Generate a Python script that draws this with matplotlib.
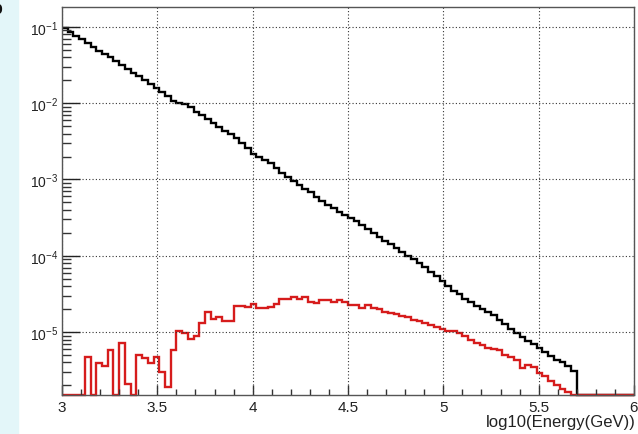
import numpy as np
import matplotlib
matplotlib.use("Agg")
import matplotlib.pyplot as plt
from matplotlib.patches import Rectangle
from matplotlib.ticker import FixedLocator, FuncFormatter, LogLocator, NullFormatter

plt.rcParams['font.family'] = ['Liberation Sans', 'DejaVu Sans']
plt.rcParams['mathtext.fontset'] = 'custom'
plt.rcParams['mathtext.rm'] = 'Liberation Sans'
plt.rcParams['mathtext.it'] = 'Liberation Sans'

# histogram binning: 100 bins of 0.03 in log10(E)
e_lo, e_hi, nbins = 3.0, 6.0, 100

# bin contents, as log10 of the value (None = empty bin)
black_log10 = [-1.02, -1.07, -1.12, -1.16, -1.21, -1.26, -1.31, -1.36, -1.40, -1.45,
               -1.50, -1.55, -1.60, -1.65, -1.70, -1.75, -1.80, -1.85, -1.91, -1.97,
               -2.00, -2.01, -2.05, -2.11, -2.16, -2.21, -2.26, -2.31, -2.36, -2.41,
               -2.46, -2.52, -2.59, -2.67, -2.70, -2.74, -2.79, -2.85, -2.91, -2.97,
               -3.02, -3.07, -3.12, -3.17, -3.23, -3.28, -3.33, -3.38, -3.42, -3.46,
               -3.50, -3.55, -3.60, -3.65, -3.70, -3.75, -3.80, -3.85, -3.90, -3.95,
               -4.00, -4.04, -4.09, -4.15, -4.21, -4.27, -4.33, -4.39, -4.455, -4.50,
               -4.565, -4.61, -4.66, -4.695, -4.74, -4.78, -4.835, -4.89, -4.955, -5.01,
               -5.065, -5.11, -5.155, -5.21, -5.265, -5.315, -5.37, -5.395, -5.445, -5.515] + [None] * 10

red_log10 = [None, None, None, None, -5.33, None, -5.41, -5.45, -5.23, None,
             -5.14, -5.68, None, -5.30, -5.34, -5.40, -5.33, -5.52, -5.72, -5.23,
             -4.99, -5.01, -5.09, -5.05, -4.88, -4.73, -4.83, -4.80, -4.85, -4.85,
             -4.66, -4.66, -4.67, -4.63, -4.69, -4.68, -4.67, -4.63, -4.57, -4.565,
             -4.535, -4.57, -4.54, -4.60, -4.615, -4.575, -4.575, -4.60, -4.585, -4.60,
             -4.65, -4.65, -4.69, -4.64, -4.69, -4.70, -4.74, -4.755, -4.765, -4.795,
             -4.805, -4.835, -4.86, -4.88, -4.905, -4.935, -4.955, -4.98, -4.99, -5.015,
             -5.055, -5.10, -5.14, -5.165, -5.205, -5.22, -5.24, -5.30, -5.33, -5.37,
             -5.47, -5.43, -5.46, -5.535, -5.57, -5.635, -5.69, -5.745, -5.79] + [None] * 11

ymin, ymax = 10 ** -5.82, 10 ** -0.74
xticks = [3, 3.5, 4, 4.5, 5, 5.5, 6]
xlabel = "log10(Energy(GeV))"


def to_counts(logs):
    # empty bins are drawn on the frame bottom like ROOT does
    return np.array([ymin if v is None else 10 ** v for v in logs])


edges = np.linspace(e_lo, e_hi, nbins + 1)

fig = plt.figure(figsize=(6.38, 4.35), dpi=100)
fig.patches.append(Rectangle((0, 0), 18 / 638, 1, transform=fig.transFigure,
                             color='#e3f6f9', zorder=0))
# panel letter, cut by the left edge in the original
fig.text(3 / 638, 1 - 9 / 435, 'b', ha='right', va='center', fontsize=14,
         fontweight='bold', color='#111')

ax = fig.add_axes([62 / 638, 1 - 395.7 / 435, 572 / 638, 387.7 / 435])

ax.stairs(to_counts(black_log10), edges, baseline=None, color='black', lw=1.7, clip_on=False)
ax.stairs(to_counts(red_log10), edges, baseline=None, color='#d61c1c', lw=1.7, clip_on=False)

ax.set_yscale('log')
ax.set_xlim(e_lo, e_hi)
ax.set_ylim(ymin, ymax)

ax.xaxis.set_major_locator(FixedLocator(xticks))
ax.xaxis.set_minor_locator(FixedLocator(np.round(np.arange(3.1, 6.0, 0.1), 2)))
ax.xaxis.set_major_formatter(FuncFormatter(lambda v, p: '%g' % v))
ax.yaxis.set_major_locator(LogLocator(base=10, numticks=20))
ax.yaxis.set_minor_locator(LogLocator(base=10, subs=np.arange(2, 10), numticks=20))
ax.yaxis.set_minor_formatter(NullFormatter())
ax.yaxis.set_major_formatter(FuncFormatter(lambda v, p: r'$10^{%d}$' % round(np.log10(v))))

ax.tick_params(axis='x', which='major', direction='in', length=7.5, width=1.0,
               labelsize=11, pad=3.5, color='#333', labelcolor='#222')
ax.tick_params(axis='x', which='minor', direction='in', length=4, width=1.0, color='#333')
ax.tick_params(axis='y', which='major', direction='in', length=13, width=1.0,
               labelsize=10, pad=3, color='#222', labelcolor='#222')
ax.tick_params(axis='y', which='minor', direction='in', length=6.5, width=1.0, color='#333')

ax.grid(True, which='major', color='#333', linestyle=(0, (1, 2)), linewidth=0.8)
for s in ax.spines.values():
    s.set_color('#555')
    s.set_linewidth(1.0)

ax.set_xlabel(xlabel, fontsize=12, loc='right', color='#222')
ax.xaxis.set_label_coords(1.003, -0.05)

fig.savefig('out.png', dpi=100)
